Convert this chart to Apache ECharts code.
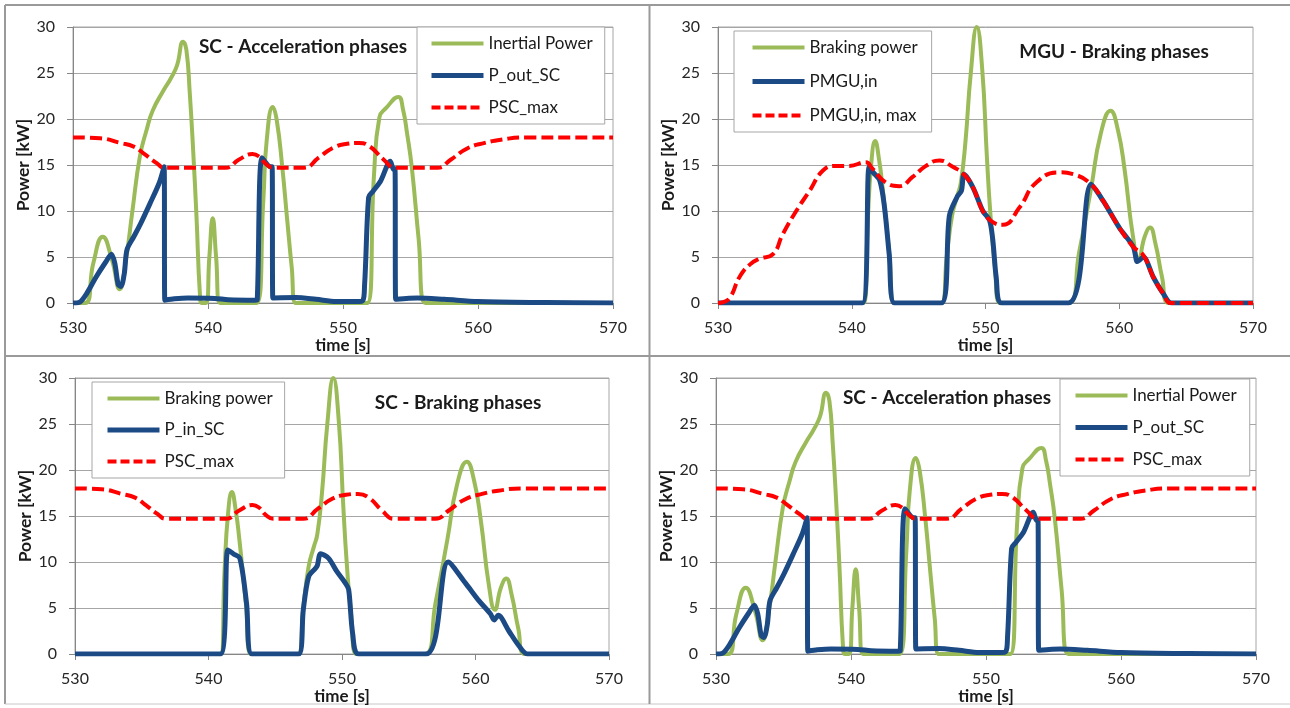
<!DOCTYPE html>
<html><head><meta charset="utf-8">
<script src="https://cdn.jsdelivr.net/npm/echarts@6/dist/echarts.min.js"></script>
<style>html,body{margin:0;padding:0;background:#fff}#c{width:1290px;height:708px}</style>
</head><body><div id="c"></div>
<script>
// ---- data (time [s], power [kW]) ----
const xTicks = [530, 540, 550, 560, 570];
const yTicks = [0, 5, 10, 15, 20, 25, 30];
const panelTitles = ['SC - Acceleration phases', 'MGU - Braking phases', 'SC - Braking phases', 'SC - Acceleration phases'];

const inertialPower = [[530,0],[530.9,0],[531.5,4.3],[532.2,7.2],[532.9,4.6],[533.45,1.5],[533.9,4.5],[534.4,10],[534.95,15.9],[535.45,18.8],[535.9,20.9],[536.7,23.1],[537.2,24.3],[537.7,25.8],[538.15,28.4],[538.4,27.5],[538.65,22.8],[538.9,16.6],[539.15,9.3],[539.4,1],[539.55,0],[539.85,0],[540.1,5],[540.35,9.2],[540.6,5],[540.9,0],[543.6,0],[544.1,11.2],[544.35,17.7],[544.8,21.3],[545.1,19.8],[545.5,14.8],[545.85,9.3],[546.2,3.9],[546.5,0],[551.8,0],[552.3,14],[552.7,20.2],[553.2,21.2],[554.1,22.4],[554.45,21],[554.75,18.4],[555.1,14.7],[555.6,7],[556.1,0],[570,0]];
const pOutSC = [[530,0],[530.5,0.1],[531.0,1.0],[531.7,2.8],[532.4,4.4],[532.85,5.3],[533.1,4.3],[533.35,2.0],[533.55,1.8],[533.8,3.2],[534.0,5.8],[534.5,7.2],[535.0,8.6],[535.7,10.8],[536.4,13.1],[536.75,14.8],[536.8,0.3],[537.5,0.45],[538.5,0.55],[540.5,0.5],[541.5,0.35],[543.5,0.3],[543.65,0.4],[544.0,15.8],[544.65,14.8],[544.75,14.8],[544.8,0.55],[546.5,0.6],[548.0,0.4],[549.5,0.15],[551.4,0.2],[551.6,2],[551.9,11.5],[552.2,12.1],[552.8,13.3],[553.5,15.4],[553.75,14.5],[553.85,14.6],[553.9,0.4],[555.5,0.55],[557.5,0.4],[560,0.15],[565,0.05],[570,0]];
const pscMax = [[530,18],[532,17.9],[533.5,17.4],[534.5,17.0],[535.2,16.3],[536.2,15.2],[536.8,14.7],[541.3,14.7],[542.3,15.6],[543.3,16.2],[543.8,15.9],[544.3,15.1],[544.85,14.7],[547.1,14.7],[548.2,15.8],[549.3,16.9],[550.3,17.3],[551.2,17.4],[552.0,17.0],[553.0,15.6],[553.9,14.7],[557.0,14.7],[558.0,15.6],[559.2,16.8],[560.5,17.4],[561.7,17.75],[563.5,18.0],[570,18]];

const brakingPower = [[530,0],[540.9,0],[541.2,9],[541.45,15],[541.75,17.6],[542.05,15.5],[542.3,12.6],[542.8,5.5],[543.2,0],[546.7,0],[547.1,5],[547.5,9.5],[547.9,11.7],[548.15,13],[548.5,17.5],[548.9,25],[549.35,30],[549.75,25.5],[550.1,16],[550.35,10],[550.7,4],[551.1,0],[556.2,0],[557.0,5.5],[557.9,12.5],[558.6,18.3],[559.35,20.9],[559.9,18.8],[560.4,14.5],[561.0,7.5],[561.45,4.8],[561.9,7.2],[562.3,8.2],[562.7,6.5],[563.2,2.8],[563.7,0],[570,0]];
const pMGUin = [[530,0],[540.8,0],[541.3,14.8],[541.6,14.2],[542.1,13.3],[542.45,10.4],[542.8,5.3],[543.2,0],[546.7,0],[547.3,9.5],[547.9,11.6],[548.2,12.2],[548.4,14.0],[549.05,12.6],[549.8,10.0],[550.3,9.0],[550.55,6.8],[550.8,2.8],[551.2,0],[556.2,0],[557.9,12.9],[558.8,11.1],[560.0,8.2],[561.05,6.1],[561.35,4.5],[561.55,4.7],[561.8,5.0],[562.55,2.8],[563.3,1.0],[563.9,0],[570,0]];
const pMGUinMax = [[530,0],[530.4,0.1],[530.9,0.6],[531.6,2.8],[532.4,4.2],[533.1,4.8],[534.1,5.3],[534.85,7.5],[535.85,10.0],[536.85,12.2],[537.85,14.4],[538.8,14.9],[539.8,14.9],[541.05,15.3],[541.55,14.6],[542.55,13.1],[543.55,12.7],[544.55,13.7],[545.55,14.9],[546.55,15.5],[547.55,14.8],[548.3,14.1],[549.05,12.6],[549.8,10.0],[550.55,8.8],[551.3,8.5],[552.55,10.4],[553.8,13.1],[555.55,14.2],[556.55,14.0],[557.9,12.9],[558.8,11.1],[560.0,8.2],[561.05,6.1],[561.8,5.2],[562.55,2.8],[563.3,1.0],[563.9,0],[570,0]];
const pInSC = [[530,0],[540.9,0],[541.45,11.3],[541.85,10.9],[542.35,10.4],[542.85,5.5],[543.25,0],[546.75,0],[547.1,4.8],[547.5,8.4],[548.0,9.3],[548.15,9.6],[548.4,10.9],[549.0,10.4],[549.6,9.0],[550.25,7.7],[550.5,7.0],[550.8,2.2],[551.25,0],[556.3,0],[557.95,10.0],[559.25,7.7],[560.25,5.8],[561.1,4.4],[561.4,3.7],[561.7,4.2],[562.5,2.5],[563.25,0.9],[563.9,0],[570,0]];

// ---- styling ----
const FONT = 'Lato';
const GREEN = '#9BBB59', BLUE = '#1C4A85', RED = '#FF0000';
const GRID_C = '#A6A6A6', AXIS_C = '#868686', TXT = '#1a1a1a';

const grids = [
  {left: 73, top: 27, width: 540, height: 276},
  {left: 718, top: 27, width: 535, height: 276},
  {left: 75, top: 378, width: 534, height: 276},
  {left: 716, top: 378, width: 540, height: 276}
];

const panels = [
  {title: panelTitles[0], tx: 303, ty: 47,
   series: [['Inertial Power', inertialPower, 'g'], ['P_out_SC', pOutSC, 'b'], ['PSC_max', pscMax, 'r']],
   legend: {left: 417, top: 27, gap: 15, pad: [8, 12, 8, 12]}},
  {title: panelTitles[1], tx: 1114, ty: 52,
   series: [['Braking power', brakingPower, 'g'], ['PMGU,in', pMGUin, 'b'], ['PMGU,in, max', pMGUinMax, 'r']],
   legend: {left: 734, top: 31, gap: 17, pad: [8, 14, 8, 16]}},
  {title: panelTitles[2], tx: 458, ty: 403,
   series: [['Braking power', brakingPower, 'g'], ['P_in_SC', pInSC, 'b'], ['PSC_max', pscMax, 'r']],
   legend: {left: 92, top: 382, gap: 14.5, pad: [8, 12, 8, 13]}},
  {title: panelTitles[3], tx: 947, ty: 398,
   series: [['Inertial Power', inertialPower, 'g'], ['P_out_SC', pOutSC, 'b'], ['PSC_max', pscMax, 'r']],
   legend: {left: 1060, top: 379, gap: 15, pad: [8, 13, 8, 13]}}
];

const styleOf = {
  g: {color: GREEN, width: 4, type: 'solid', smooth: 0.5},
  b: {color: BLUE, width: 5, type: 'solid', smooth: 0.3},
  r: {color: RED, width: 4, type: [12, 5], smooth: 0.5}
};

const option = {
  animation: false,
  backgroundColor: '#fff',
  grid: grids.map(g => Object.assign({show: true, borderColor: GRID_C, borderWidth: 1, backgroundColor: 'transparent'}, g)),
  xAxis: grids.map((g, i) => ({
    gridIndex: i, type: 'value', min: xTicks[0], max: xTicks[xTicks.length - 1], interval: 10,
    axisLine: {show: true, lineStyle: {color: AXIS_C, width: 1}},
    axisTick: {show: true, length: 6, lineStyle: {color: AXIS_C}},
    axisLabel: {margin: 17, fontFamily: FONT, fontSize: 16, color: '#262626'},
    splitLine: {show: false},
    name: 'time [s]', nameLocation: 'middle', nameGap: 30,
    nameTextStyle: {fontFamily: FONT, fontWeight: 'bold', fontSize: 17, color: TXT}
  })),
  yAxis: grids.map((g, i) => ({
    gridIndex: i, type: 'value', min: yTicks[0], max: yTicks[yTicks.length - 1], interval: 5,
    axisLine: {show: true, lineStyle: {color: AXIS_C, width: 1}},
    axisTick: {show: true, length: 6, lineStyle: {color: AXIS_C}},
    axisLabel: {margin: 18, fontFamily: FONT, fontSize: 16, color: '#262626'},
    splitLine: {show: true, lineStyle: {color: GRID_C, width: 1}},
    name: 'Power [kW]', nameLocation: 'middle', nameGap: 41,
    nameTextStyle: {fontFamily: FONT, fontWeight: 'bold', fontSize: 17.5, color: TXT}
  })),
  legend: panels.map(p => ({
    orient: 'vertical', left: p.legend.left, top: p.legend.top,
    padding: p.legend.pad, itemGap: p.legend.gap, itemWidth: 52, itemHeight: 14,
    backgroundColor: '#fff', borderColor: GRID_C, borderWidth: 1, borderRadius: 0,
    selectedMode: false,
    textStyle: {fontFamily: FONT, fontSize: 17, color: TXT},
    data: p.series.map(s => ({
      name: s[0],
      itemStyle: {opacity: 0},
      lineStyle: {width: styleOf[s[2]].width, type: s[2] === 'r' ? [9, 4] : 'solid', color: styleOf[s[2]].color}
    }))
  })),
  series: [],
  graphic: []
};

panels.forEach((p, i) => {
  p.series.forEach(s => {
    const st = styleOf[s[2]];
    option.series.push({
      type: 'line', name: s[0], xAxisIndex: i, yAxisIndex: i,
      data: s[1], showSymbol: false, symbol: 'none',
      smooth: st.smooth,
      color: st.color,
      lineStyle: {color: st.color, width: st.width, type: st.type, cap: 'butt', join: 'round'}
    });
  });
  option.graphic.push({
    type: 'text', x: p.tx, y: p.ty, z: 10,
    style: {text: p.title, font: 'bold 19px ' + FONT, fill: TXT, align: 'center', verticalAlign: 'middle'}
  });
});

// frame and separators
const FRAME = '#9a9a9a';
option.graphic.push(
  {type: 'line', shape: {x1: 5, y1: 5, x2: 1290, y2: 5}, style: {stroke: FRAME, lineWidth: 2}},
  {type: 'line', shape: {x1: 5, y1: 5, x2: 5, y2: 704}, style: {stroke: FRAME, lineWidth: 2}},
  {type: 'line', shape: {x1: 5, y1: 704, x2: 1290, y2: 704}, style: {stroke: '#c8c8c8', lineWidth: 1}},
  {type: 'line', shape: {x1: 649.5, y1: 5, x2: 649.5, y2: 704}, style: {stroke: FRAME, lineWidth: 2}},
  {type: 'line', shape: {x1: 5, y1: 356, x2: 1290, y2: 356}, style: {stroke: FRAME, lineWidth: 2}}
);

const chart = echarts.init(document.getElementById('c'), null, {renderer: 'canvas'});
chart.setOption(option);
</script>
</body></html>
